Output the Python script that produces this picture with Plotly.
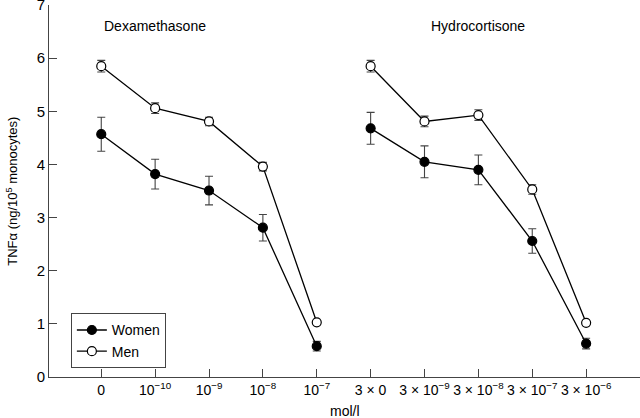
import plotly.graph_objects as go

categories = ["0", "10<sup>−10</sup>", "10<sup>−9</sup>", "10<sup>−8</sup>", "10<sup>−7</sup>",
              "3 × 0", "3 × 10<sup>−9</sup>", "3 × 10<sup>−8</sup>", "3 × 10<sup>−7</sup>", "3 × 10<sup>−6</sup>"]

dex_women = [4.57, 3.82, 3.51, 2.81, 0.58]
dex_women_err = [0.32, 0.28, 0.27, 0.25, 0.09]
dex_men = [5.85, 5.06, 4.81, 3.96, 1.03]
dex_men_err = [0.11, 0.10, 0.08, 0.08, 0.0]

hyd_women = [4.68, 4.05, 3.90, 2.56, 0.63]
hyd_women_err = [0.30, 0.30, 0.28, 0.23, 0.10]
hyd_men = [5.85, 4.81, 4.93, 3.53, 1.02]
hyd_men_err = [0.11, 0.10, 0.10, 0.09, 0.0]

idx = list(range(len(categories)))
dex_x = idx[:5]
hyd_x = idx[5:]

FONT = "Liberation Sans"
fig = go.Figure()

def add(x, y, err, filled, name, show):
    fig.add_trace(go.Scatter(
        x=x, y=y, mode="lines+markers", name=name, showlegend=show, legendgroup=name,
        line=dict(color="black", width=1.3),
        marker=dict(size=9, color="black" if filled else "white",
                    line=dict(color="black", width=1.2), symbol="circle"),
        error_y=dict(type="data", array=err, visible=True, color="#444", thickness=1.1, width=4),
    ))

add(dex_x, dex_men, dex_men_err, False, "Men", False)
add(hyd_x, hyd_men, hyd_men_err, False, "Men", False)
add(dex_x, dex_women, dex_women_err, True, "Women", True)
add(hyd_x, hyd_women, hyd_women_err, True, "Women", False)
fig.add_trace(go.Scatter(x=[None], y=[None], mode="lines+markers", name="Men", showlegend=True,
                         line=dict(color="black", width=1.3),
                         marker=dict(size=9, color="white", line=dict(color="black", width=1.2))))

fig.update_layout(
    width=640, height=418,
    margin=dict(l=49, r=0, t=5, b=41),
    paper_bgcolor="white", plot_bgcolor="white",
    font=dict(family=FONT, size=13, color="black"),
    showlegend=True,
    legend=dict(x=0.037, y=0.171, xanchor="left", yanchor="top",
                bordercolor="#444", borderwidth=1, bgcolor="white",
                font=dict(size=14), traceorder="normal", tracegroupgap=0,
                itemwidth=30),
    xaxis=dict(range=[-0.97, 10.0], tickmode="array", tickvals=idx, ticktext=categories,
               showline=True, linecolor="#444", linewidth=1, ticks="inside", ticklen=8,
               tickcolor="#444", showgrid=False, zeroline=False, tickfont=dict(size=14),
               automargin=False, ticklabeloverflow="allow"),
    yaxis=dict(range=[0, 7.002], tickmode="array", tickvals=[0, 1, 2, 3, 4, 5, 6, 7],
               showline=True, linecolor="#444",
               linewidth=1, ticks="inside", ticklen=8, tickcolor="#444", showgrid=False,
               zeroline=False, tickfont=dict(size=15), automargin=False,
               ticklabeloverflow="allow"),
    annotations=[
        dict(text="Dexamethasone", x=1, y=6.6, xref="x", yref="y", showarrow=False,
             font=dict(size=14), xanchor="center"),
        dict(text="Hydrocortisone", x=7, y=6.6, xref="x", yref="y", showarrow=False,
             font=dict(size=14), xanchor="center"),
        dict(text="TNFα (ng/10<sup>5</sup> monocytes)", x=-0.063, y=0.5, xref="paper", yref="paper",
             showarrow=False, textangle=-90, font=dict(size=13), xanchor="center", yanchor="middle"),
        dict(text="mol/l", x=0.5, y=-0.091, xref="paper", yref="paper", showarrow=False,
             font=dict(size=14), xanchor="center", yanchor="middle"),
    ],
)

fig.write_html("out.html", config={"displayModeBar": False},
               post_script="document.body.style.margin='0';")
